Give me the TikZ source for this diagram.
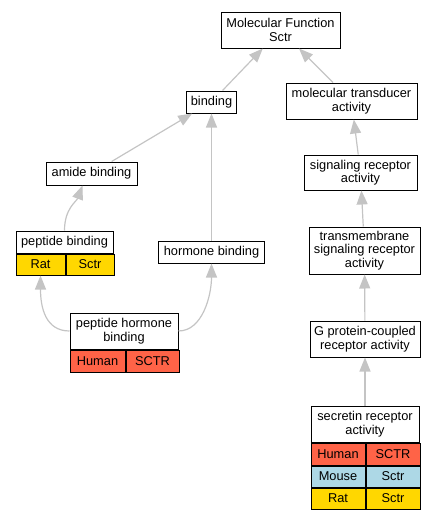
\documentclass[tikz,border=0pt]{standalone}
\usepackage{fontspec}
\setmainfont{Liberation Sans}
\usetikzlibrary{positioning, arrows.meta}
\definecolor{humanred}{HTML}{FF6347}
\definecolor{mouseblue}{HTML}{ADD8E6}
\definecolor{ratgold}{HTML}{FFD700}
\definecolor{edgegray}{HTML}{C4C4C4}
\tikzstyle{term} = [rectangle, draw=black, line width=1pt, fill=white, inner sep=0pt, align=center, font=\fontsize{12.8}{13.5}\selectfont]
\tikzstyle{cell} = [term, minimum height=22pt]
\tikzstyle{arrow} = [draw=edgegray, line width=1.2pt, -{Triangle[length=14pt,width=11pt]}]

\begin{document}
\begin{tikzpicture}[x=1pt, y=-1pt]
\useasboundingbox (0,0) rectangle (437,517);
\node (mol_func) [term, minimum width=119pt, minimum height=36pt] at (280.5,30) {Molecular Function\\Sctr};
\node (binding) [term, minimum width=50pt, minimum height=22pt] at (211.5,102) {binding};
\node (mol_trans) [term, minimum width=131pt, minimum height=36pt] at (351.5,101) {molecular transducer\\activity};
\node (amide) [term, minimum width=91pt, minimum height=23pt] at (91.5,173.5) {amide binding};
\node (sig_rec) [term, minimum width=113pt, minimum height=35pt] at (360.5,172.5) {signaling receptor\\activity};
\node (hormone) [term, minimum width=106pt, minimum height=22pt] at (211.5,252) {hormone binding};
\node (tm_rec) [term, minimum width=111pt, minimum height=47pt] at (364.5,250.5) {transmembrane\\signaling receptor\\activity};
\node (gpcr) [term, minimum width=110pt, minimum height=36pt] at (365,339) {G protein-coupled\\receptor activity};

% peptide binding + table
\node (peptide) [term, minimum width=97pt, minimum height=22pt] at (64.5,242) {peptide binding};
\node (peptide_rat) [cell, fill=ratgold, minimum width=49pt, minimum height=21pt, below right=0pt and 0pt of peptide.south west] {Rat};
\node (peptide_sctr) [cell, fill=ratgold, minimum width=48pt, minimum height=21pt, right=0pt of peptide_rat] {Sctr};

% peptide hormone binding + table
\node (pep_horm) [term, minimum width=108pt, minimum height=36pt] at (124,331) {peptide hormone\\binding};
\node (pep_horm_human) [cell, fill=humanred, minimum width=55pt, below right=0pt and 0pt of pep_horm.south west] {Human};
\node (pep_horm_sctr) [cell, fill=humanred, minimum width=53pt, right=0pt of pep_horm_human] {SCTR};

% secretin receptor activity + table
\node (secretin) [term, minimum width=108pt, minimum height=36pt] at (365,424) {secretin receptor\\activity};
\node (sec_human) [cell, fill=humanred, minimum width=54pt, below right=0pt and 0pt of secretin.south west] {Human};
\node (sec_human_gene) [cell, fill=humanred, minimum width=54pt, right=0pt of sec_human] {SCTR};
\node (sec_mouse) [cell, fill=mouseblue, minimum width=54pt, minimum height=21pt, below=0pt of sec_human] {Mouse};
\node (sec_mouse_gene) [cell, fill=mouseblue, minimum width=54pt, minimum height=21pt, right=0pt of sec_mouse] {Sctr};
\node (sec_rat) [cell, fill=ratgold, minimum width=54pt, minimum height=21pt, below=0pt of sec_mouse] {Rat};
\node (sec_rat_gene) [cell, fill=ratgold, minimum width=54pt, minimum height=21pt, right=0pt of sec_rat] {Sctr};

\draw [arrow] (binding) -- (mol_func);
\draw [arrow] (mol_trans) -- (mol_func);
\draw [arrow] (amide) -- (binding);
\draw [arrow] (hormone) -- (binding);
\draw [arrow] (sig_rec) -- (mol_trans);
\draw [arrow] (tm_rec) -- (sig_rec);
\draw [arrow] (gpcr) -- (tm_rec);
\draw [arrow] (secretin) -- (gpcr);
\draw [arrow] (peptide.north) .. controls +(0,-22) and +(-6,16) .. ([xshift=-9pt]amide.south);
\draw [arrow] (pep_horm.west) .. controls +(-24,0) and +(0,32) .. (peptide_rat.south);
\draw [arrow] (pep_horm.east) .. controls +(24,0) and +(0,32) .. (hormone.south);
\end{tikzpicture}
\end{document}
